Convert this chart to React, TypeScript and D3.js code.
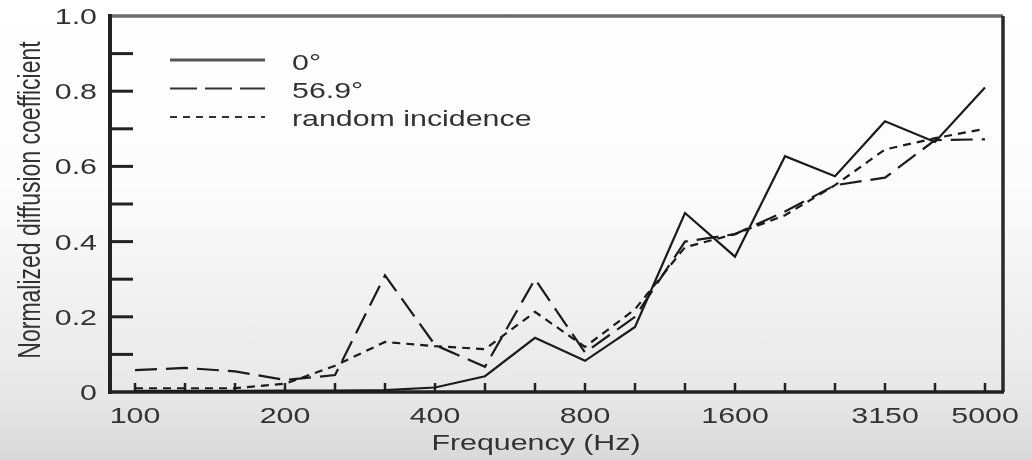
import React from "react";
import * as d3 from "d3";

const freqs = [100, 125, 160, 200, 250, 315, 400, 500, 630, 800, 1000, 1250, 1600, 2000, 2500, 3150, 4000, 5000];
const xTickLabels = [100, 200, 400, 800, 1600, 3150, 5000];
const yTickMinor = [0.1, 0.2, 0.3, 0.4, 0.5, 0.6, 0.7, 0.8, 0.9];
const yTickLabels = [0, 0.2, 0.4, 0.6, 0.8, 1.0];

const normal0 = [0.003, 0.003, 0.003, 0.004, 0.004, 0.005, 0.012, 0.042, 0.144, 0.083, 0.173, 0.476, 0.36, 0.627, 0.574, 0.72, 0.665, 0.81];
const oblique569 = [0.058, 0.064, 0.055, 0.032, 0.045, 0.31, 0.125, 0.067, 0.30, 0.105, 0.20, 0.40, 0.42, 0.48, 0.55, 0.57, 0.67, 0.672];
const randomInc = [0.01, 0.01, 0.01, 0.022, 0.07, 0.133, 0.122, 0.114, 0.213, 0.12, 0.22, 0.385, 0.42, 0.47, 0.55, 0.645, 0.675, 0.70];

const seriesNames = ["0°", "56.9°", "random incidence"];

const W = 1032;
const H = 460;
const FONT = "'Liberation Sans', Arial, Helvetica, sans-serif";
const TXT = "#333";
const SX = 1.38;
const FS = 22;

export default function App() {
  const x = d3.scalePoint<string>().domain(freqs.map(String)).range([135, 985]);
  const y = d3.scaleLinear().domain([0, 1]).range([392, 16]);
  const line = d3
    .line<number>()
    .x((_, i) => x(String(freqs[i])) as number)
    .y((d) => y(d));

  const series = [
    { name: seriesNames[0], data: normal0, dash: "none" },
    { name: seriesNames[1], data: oblique569, dash: "22 9" },
    { name: seriesNames[2], data: randomInc, dash: "8 6" },
  ];

  const fmt = (v: number) => (v === 0 ? "0" : v.toFixed(1));

  return (
    <svg
      width={W}
      height={H}
      style={{ position: "absolute", left: 0, top: 0, display: "block" }}
    >
      <defs>
        <linearGradient id="bg" x1="0" y1="0" x2="0" y2="1">
          <stop offset="0" stopColor="#ffffff" />
          <stop offset="0.4" stopColor="#fcfcfc" />
          <stop offset="0.85" stopColor="#e8e8e8" />
          <stop offset="1" stopColor="#d9d9d9" />
        </linearGradient>
        <filter id="soft" x="-5%" y="-5%" width="110%" height="110%">
          <feGaussianBlur stdDeviation="0.55" />
        </filter>
      </defs>
      <rect x={0} y={0} width={W} height={H} fill="url(#bg)" />

      <g filter="url(#soft)">
        {/* frame */}
        <line x1={110} x2={1003} y1={16} y2={16} stroke="#6a6a6a" strokeWidth={3.5} />
        <line x1={1003} x2={1003} y1={16} y2={392} stroke="#2a2a2a" strokeWidth={3.5} />
        <line x1={110} x2={1004} y1={392} y2={392} stroke="#222" strokeWidth={3.5} />
        <line x1={110} x2={110} y1={14} y2={394} stroke="#222" strokeWidth={4} />

        {/* y ticks */}
        {yTickMinor.map((t) => (
          <line key={"yt" + t} x1={110} x2={133} y1={y(t)} y2={y(t)} stroke="#222" strokeWidth={3} />
        ))}
        {yTickLabels.map((t) => (
          <g key={"yl" + t} transform={`translate(97,${y(t) + 8}) scale(${SX},1)`}>
            <text x={0} y={0} textAnchor="end" fontFamily={FONT} fontSize={FS} fill={TXT}>
              {fmt(t)}
            </text>
          </g>
        ))}

        {/* x ticks */}
        {freqs.map((f) => (
          <line key={"xt" + f} x1={x(String(f))} x2={x(String(f))} y1={392} y2={383} stroke="#222" strokeWidth={2.5} />
        ))}
        {xTickLabels.map((f) => (
          <g key={"xl" + f} transform={`translate(${x(String(f))},423) scale(${SX},1)`}>
            <text x={0} y={0} textAnchor="middle" fontFamily={FONT} fontSize={FS} fill={TXT}>
              {f}
            </text>
          </g>
        ))}

        {/* axis titles */}
        <g transform={`translate(536,450) scale(${SX},1)`}>
          <text x={0} y={0} textAnchor="middle" fontFamily={FONT} fontSize={FS} fill={TXT}>
            Frequency (Hz)
          </text>
        </g>
        <g transform={`translate(40,200) scale(${SX},1) rotate(-90)`}>
          <text x={0} y={0} textAnchor="middle" fontFamily={FONT} fontSize={23} fill={TXT}>
            Normalized diffusion coefficient
          </text>
        </g>

        {/* data lines */}
        {series.map((s) => (
          <path
            key={s.name}
            d={line(s.data) || ""}
            fill="none"
            stroke="#1a1a1a"
            strokeWidth={2.2}
            strokeDasharray={s.dash}
            strokeLinejoin="miter"
          />
        ))}

        {/* legend */}
        {series.map((s, i) => (
          <g key={"lg" + s.name}>
            <line
              x1={170}
              x2={265}
              y1={60 + i * 28.5}
              y2={60 + i * 28.5}
              stroke={i === 0 ? "#555" : "#333"}
              strokeWidth={i === 0 ? 3 : 2.2}
              strokeDasharray={i === 1 ? "27 8" : i === 2 ? "7 6" : "none"}
            />
            <g transform={`translate(292,${70 + i * 28}) scale(${SX},1)`}>
              <text x={0} y={0} fontFamily={FONT} fontSize={FS} fill={TXT}>
                {s.name}
              </text>
            </g>
          </g>
        ))}
      </g>
    </svg>
  );
}
